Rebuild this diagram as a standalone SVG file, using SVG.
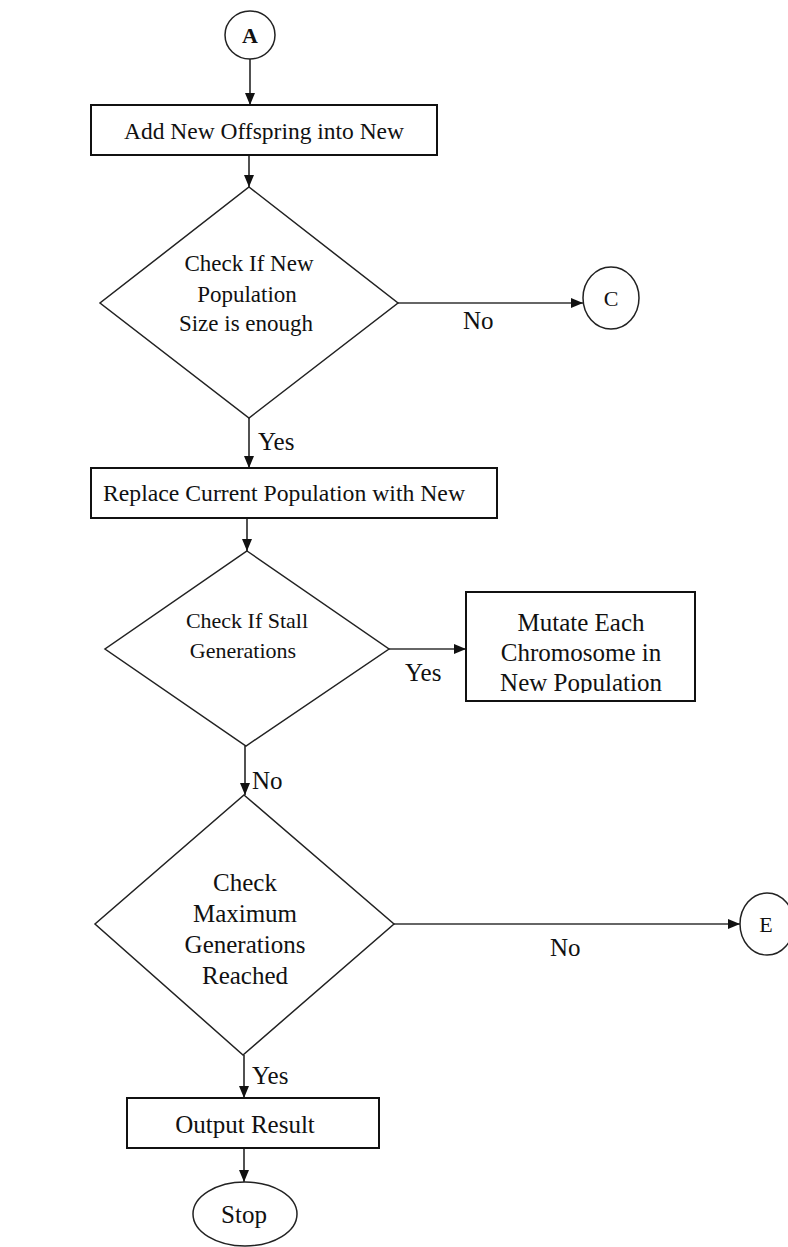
<svg xmlns="http://www.w3.org/2000/svg" width="788" height="1247" viewBox="0 0 788 1247">
<style>
  .bg{fill:#fff}
  .box{fill:#fff;stroke:#111;stroke-width:2}
  .dia{fill:#fff;stroke:#222;stroke-width:1.5}
  .term{fill:#fff;stroke:#222;stroke-width:1.5}
  .conn{fill:none;stroke:#333;stroke-width:1.7}
  .t{font-family:"Liberation Serif","Times New Roman",serif;fill:#111;text-anchor:middle}
  .lbl{font-family:"Liberation Serif","Times New Roman",serif;fill:#111;font-size:25px}
  .f25{font-size:25px}
  .f24{font-size:24px}
  .f23{font-size:23px}
  .f22{font-size:22px}
</style>
<defs>
  <marker id="ah" markerWidth="12" markerHeight="10" refX="12" refY="5" orient="auto" markerUnits="userSpaceOnUse">
    <path d="M0,0 L12,5 L0,10 Z" fill="#111"/>
  </marker>
  <clipPath id="mclip">
    <rect x="466" y="592" width="229" height="101"/>
  </clipPath>
</defs>
<rect class="bg" x="0" y="0" width="788" height="1247"/>

<g id="connectors">
  <line class="conn" x1="250" y1="59" x2="250" y2="105" marker-end="url(#ah)"/>
  <line class="conn" x1="249" y1="155" x2="249" y2="187" marker-end="url(#ah)"/>
  <line class="conn" x1="398" y1="303" x2="583" y2="303" marker-end="url(#ah)"/>
  <line class="conn" x1="249" y1="418" x2="249" y2="468" marker-end="url(#ah)"/>
  <line class="conn" x1="247" y1="518" x2="247" y2="551" marker-end="url(#ah)"/>
  <line class="conn" x1="389" y1="649" x2="466" y2="649" marker-end="url(#ah)"/>
  <line class="conn" x1="245" y1="746" x2="245" y2="795" marker-end="url(#ah)"/>
  <line class="conn" x1="394" y1="924" x2="740" y2="924" marker-end="url(#ah)"/>
  <line class="conn" x1="244" y1="1055" x2="244" y2="1098" marker-end="url(#ah)"/>
  <line class="conn" x1="244" y1="1148" x2="244" y2="1182" marker-end="url(#ah)"/>
  <text class="lbl" x="463" y="329">No</text>
  <text class="lbl" x="258" y="450">Yes</text>
  <text class="lbl" x="405" y="681">Yes</text>
  <text class="lbl" x="252" y="789">No</text>
  <text class="lbl" x="550" y="956">No</text>
  <text class="lbl" x="252" y="1084">Yes</text>
</g>

<g id="nodeA">
  <ellipse class="term" cx="250" cy="35" rx="25" ry="24"/>
  <text class="t f22" x="250" y="43" font-weight="bold">A</text>
</g>

<g id="box1">
  <rect class="box" x="91" y="105" width="346" height="50"/>
  <text class="t f24" x="264" y="139" textLength="280" lengthAdjust="spacingAndGlyphs">Add New Offspring into New</text>
</g>

<g id="dec1">
  <polygon class="dia" points="249,187 398,303 249,418 100,303"/>
  <text class="t f23" x="249" y="271">Check If New</text>
  <text class="t f23" x="247" y="302">Population</text>
  <text class="t f23" x="246" y="331">Size is enough</text>
</g>

<g id="nodeC">
  <ellipse class="term" cx="611" cy="298" rx="28" ry="31"/>
  <text class="t f22" x="611" y="306">C</text>
</g>

<g id="box2">
  <rect class="box" x="91" y="468" width="406" height="50"/>
  <text class="t f24" x="284" y="501" textLength="362" lengthAdjust="spacingAndGlyphs">Replace Current Population with New</text>
</g>

<g id="dec2">
  <polygon class="dia" points="247,551 389,649 246,746 105,649"/>
  <text class="t f22" x="247" y="628">Check If Stall</text>
  <text class="t f22" x="243" y="658">Generations</text>
</g>

<g id="mutate">
  <rect class="box" x="466" y="592" width="229" height="109"/>
  <g clip-path="url(#mclip)">
    <text class="t f25" x="581" y="631">Mutate Each</text>
    <text class="t f25" x="581" y="661">Chromosome in</text>
    <text class="t f25" x="581" y="691">New Population</text>
  </g>
</g>

<g id="dec3">
  <polygon class="dia" points="244,795 394,924 243,1055 95,924"/>
  <text class="t f25" x="245" y="891">Check</text>
  <text class="t f25" x="245" y="922">Maximum</text>
  <text class="t f25" x="245" y="953">Generations</text>
  <text class="t f25" x="245" y="984">Reached</text>
</g>

<g id="nodeE">
  <ellipse class="term" cx="767" cy="924" rx="27" ry="31"/>
  <text class="t f22" x="766" y="932">E</text>
</g>

<g id="output">
  <rect class="box" x="127" y="1098" width="252" height="50"/>
  <text class="t f25" x="245" y="1133">Output Result</text>
</g>

<g id="stop">
  <ellipse class="term" cx="245" cy="1214" rx="52" ry="32"/>
  <text class="t f25" x="244" y="1223">Stop</text>
</g>
</svg>
